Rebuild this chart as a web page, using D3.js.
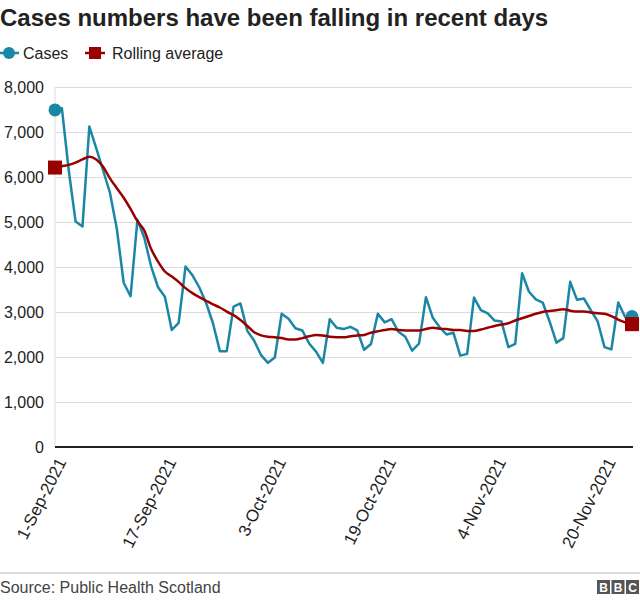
<!DOCTYPE html>
<html>
<head>
<meta charset="utf-8">
<script src="https://cdn.jsdelivr.net/npm/d3@7"></script>
<style>
  html, body { margin: 0; padding: 0; background: #fff; }
  svg { display: block; font-family: "Liberation Sans", Arial, Helvetica, sans-serif; }
</style>
</head>
<body>
<svg id="chart" width="640" height="601"></svg>
<script>
// ---- Data ----
const startDate = "2021-09-01";
const cases = [
  7490, 7530, 6150, 5010, 4900, 7120,
  6640, 6150, 5650, 4850, 3650, 3350, 5050,
  4650, 4010, 3550, 3340, 2600, 2760, 4010,
  3820, 3550, 3200, 2750, 2130, 2130, 3120,
  3190, 2580, 2360, 2040, 1870, 1990, 2960,
  2850, 2640, 2590, 2300, 2120, 1870, 2840,
  2650, 2620, 2670, 2590, 2160, 2290, 2960,
  2770, 2840, 2560, 2450, 2140, 2300, 3330,
  2870, 2660, 2500, 2540, 2030, 2070, 3320,
  3040, 2970, 2810, 2790, 2220, 2290, 3860,
  3450, 3280, 3210, 2790, 2320, 2420, 3670,
  3270, 3300, 3040, 2790, 2220, 2170, 3210,
  2890, 2900
];
const rollingAverage = [
  6210, 6240, 6270, 6320, 6390, 6450,
  6390, 6230, 5970, 5750, 5540, 5290, 5020,
  4810, 4400, 4120, 3900, 3790, 3670, 3530,
  3420, 3330, 3250, 3170, 3100, 3010, 2930,
  2820, 2690, 2550, 2480, 2450, 2440, 2420,
  2390, 2390, 2420, 2460, 2490, 2480, 2450,
  2440, 2440, 2460, 2480, 2490, 2540, 2570,
  2600, 2620, 2600, 2590, 2590, 2590, 2620,
  2650, 2630, 2620, 2600, 2600, 2580, 2580,
  2610, 2650, 2690, 2720, 2750, 2810, 2860,
  2910, 2960, 3000, 3020, 3040, 3060, 3030,
  3010, 3010, 2990, 2970, 2960, 2910, 2830,
  2770, 2730
];
const tickDates = ["2021-09-01", "2021-09-17", "2021-10-03", "2021-10-19", "2021-11-04", "2021-11-20"];
const tickLabels = ["1-Sep-2021", "17-Sep-2021", "3-Oct-2021", "19-Oct-2021", "4-Nov-2021", "20-Nov-2021"];
const yTicks = [0, 1000, 2000, 3000, 4000, 5000, 6000, 7000, 8000];
const titleText = "Cases numbers have been falling in recent days";
const legendLabels = ["Cases", "Rolling average"];
const sourceText = "Source: Public Health Scotland";

// ---- Setup ----
const parse = d3.utcParse("%Y-%m-%d");
const start = parse(startDate);
const dates = cases.map((_, i) => d3.utcDay.offset(start, i));

const casesColor = "#1a87a5";
const avgColor = "#990000";

const svg = d3.select("#chart");
const mLeft = 55, mRight = 632, mTop = 87, mBottom = 447;

const x = d3.scaleUtc().domain([dates[0], dates[dates.length - 1]]).range([mLeft, mRight]);
const y = d3.scaleLinear().domain([0, 8000]).range([mBottom, mTop]);

// Title
svg.append("text").attr("x", 0).attr("y", 26)
  .attr("font-size", 24).attr("font-weight", "bold").attr("fill", "#222")
  .text(titleText);

// Legend
const lg = svg.append("g").attr("transform", "translate(0,53)");
lg.append("line").attr("x1", 0).attr("x2", 19).attr("y1", 0).attr("y2", 0)
  .attr("stroke", casesColor).attr("stroke-width", 2.5);
lg.append("circle").attr("cx", 9).attr("cy", 0).attr("r", 6).attr("fill", casesColor);
lg.append("text").attr("x", 23).attr("y", 6).attr("font-size", 16).attr("fill", "#222").text(legendLabels[0]);
lg.append("line").attr("x1", 85).attr("x2", 105).attr("y1", 0).attr("y2", 0)
  .attr("stroke", avgColor).attr("stroke-width", 2.5);
lg.append("rect").attr("x", 89).attr("y", -6).attr("width", 12).attr("height", 12).attr("fill", avgColor);
lg.append("text").attr("x", 112).attr("y", 6).attr("font-size", 16).attr("fill", "#222").text(legendLabels[1]);

// Y grid + labels
const yAxis = d3.axisLeft(y).tickValues(yTicks).tickSize(-(mRight - mLeft)).tickPadding(11)
  .tickFormat(d3.format(","));
const yg = svg.append("g").attr("transform", `translate(${mLeft},0)`).call(yAxis);
yg.select(".domain").remove();
yg.selectAll(".tick line").attr("stroke", "#dcdcdc").attr("stroke-width", 1);
yg.selectAll(".tick text").attr("font-size", 16).attr("fill", "#222")
  .attr("font-family", "Liberation Sans, Arial, sans-serif");

// left vertical axis line
svg.append("line").attr("x1", mLeft).attr("x2", mLeft).attr("y1", mTop).attr("y2", mBottom)
  .attr("stroke", "#dcdcdc").attr("stroke-width", 1);

// zero baseline
svg.append("line").attr("x1", mLeft).attr("x2", mRight + 1).attr("y1", y(0)).attr("y2", y(0))
  .attr("stroke", "#222").attr("stroke-width", 2);

// X labels
const xTickD = tickDates.map(parse);
const xAxis = d3.axisBottom(x).tickValues(xTickD).tickSize(0)
  .tickFormat((d, i) => tickLabels[i]);
const xg = svg.append("g").attr("transform", `translate(0,${mBottom})`).call(xAxis);
xg.select(".domain").remove();
xg.selectAll(".tick text")
  .attr("font-size", 17).attr("fill", "#222")
  .attr("font-family", "Liberation Sans, Arial, sans-serif")
  .attr("text-anchor", "end")
  .attr("dy", "0.35em")
  .attr("transform", "translate(6,12) rotate(-63)")
  .attr("y", 0).attr("x", 0);

// Lines
const lineCases = d3.line().x((d, i) => x(dates[i])).y(d => y(d));
const lineAvg = d3.line().x((d, i) => x(dates[i])).y(d => y(d)).curve(d3.curveMonotoneX);

svg.append("path").datum(cases).attr("d", lineCases)
  .attr("fill", "none").attr("stroke", casesColor).attr("stroke-width", 2.5)
  .attr("stroke-linejoin", "round");
svg.append("path").datum(rollingAverage).attr("d", lineAvg)
  .attr("fill", "none").attr("stroke", avgColor).attr("stroke-width", 2.5);

// End markers
const n = cases.length - 1;
[0, n].forEach(i => {
  svg.append("circle").attr("cx", x(dates[i])).attr("cy", y(cases[i])).attr("r", 6.5).attr("fill", casesColor);
});
[0, rollingAverage.length - 1].forEach(i => {
  svg.append("rect").attr("x", x(dates[i]) - 7).attr("y", y(rollingAverage[i]) - 7)
    .attr("width", 14).attr("height", 14).attr("fill", avgColor);
});

// Footer
svg.append("line").attr("x1", 0).attr("x2", 640).attr("y1", 573).attr("y2", 573)
  .attr("stroke", "#bbb").attr("stroke-width", 1);
svg.append("text").attr("x", 0).attr("y", 593).attr("font-size", 16).attr("fill", "#444").text(sourceText);

// BBC logo
const logo = svg.append("g").attr("transform", "translate(597,580)");
["B", "B", "C"].forEach((ch, i) => {
  logo.append("rect").attr("x", i * 14.5).attr("y", 0).attr("width", 13).attr("height", 14).attr("fill", "#555");
  logo.append("text").attr("x", i * 14.5 + 6.5).attr("y", 11.5).attr("text-anchor", "middle")
    .attr("font-size", 12).attr("font-weight", "bold").attr("fill", "#fff").text(ch);
});
</script>
</body>
</html>
